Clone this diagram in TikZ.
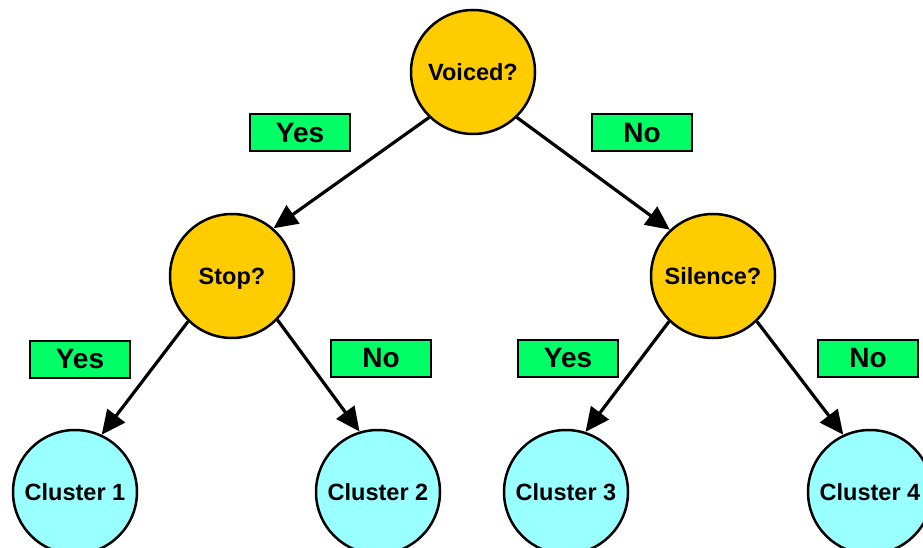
\documentclass[tikz,border=0pt]{standalone}
\usepackage{fontspec}
\setmainfont{Liberation Sans}
\usetikzlibrary{arrows.meta}
\definecolor{qyellow}{RGB}{255,204,0}
\definecolor{qcyan}{RGB}{153,255,255}
\definecolor{qgreen}{RGB}{0,255,102}
\begin{document}
\begin{tikzpicture}[x=1pt,y=-1pt,
  question/.style={circle,draw=black,line width=2.5pt,fill=qyellow,
    minimum size=124pt,inner sep=0pt,text depth=0pt,
    font=\bfseries\fontsize{23.5}{26}\selectfont},
  cluster/.style={circle,draw=black,line width=2.5pt,fill=qcyan,
    minimum size=124pt,inner sep=0pt,text depth=0pt,
    font=\bfseries\fontsize{23.5}{26}\selectfont},
  answer/.style={rectangle,draw=black,line width=2pt,fill=qgreen,
    minimum width=100pt,minimum height=37pt,inner sep=0pt,text depth=0pt,
    font=\bfseries\fontsize{28}{30}\selectfont},
  branch/.style={line width=3.2pt,-{Triangle[length=24pt,width=22pt]}}]
\useasboundingbox (0,0) rectangle (923,548);
\clip (0,0) rectangle (923,548);

% decision nodes
\node[question] (voiced)  at (473,72)  {Voiced?};
\node[question] (stop)    at (232,276) {Stop?};
\node[question] (silence) at (713,276) {Silence?};

% leaves
\node[cluster] (c1) at (75,492)  {Cluster 1};
\node[cluster] (c2) at (378,492) {Cluster 2};
\node[cluster] (c3) at (566,492) {Cluster 3};
\node[cluster] (c4) at (870,492) {Cluster 4};

% branch labels
\node[answer] (yesA) at (300,133) {Yes};
\node[answer] (noA)  at (642,133) {No};
\node[answer] (yesB) at (80,359)  {Yes};
\node[answer] (noB)  at (381,358) {No};
\node[answer] (yesC) at (568,358) {Yes};
\node[answer] (noC)  at (868,358) {No};

% branches
\draw[branch] (voiced.226) -- (stop.49);
\draw[branch] (voiced.314) -- (silence.133);
\draw[branch] (stop.226) -- (c1.65);
\draw[branch] (stop.316) -- (c2.107);
\draw[branch] (silence.226) -- (c3.72);
\draw[branch] (silence.314) -- (c4.115);
\end{tikzpicture}
\end{document}
